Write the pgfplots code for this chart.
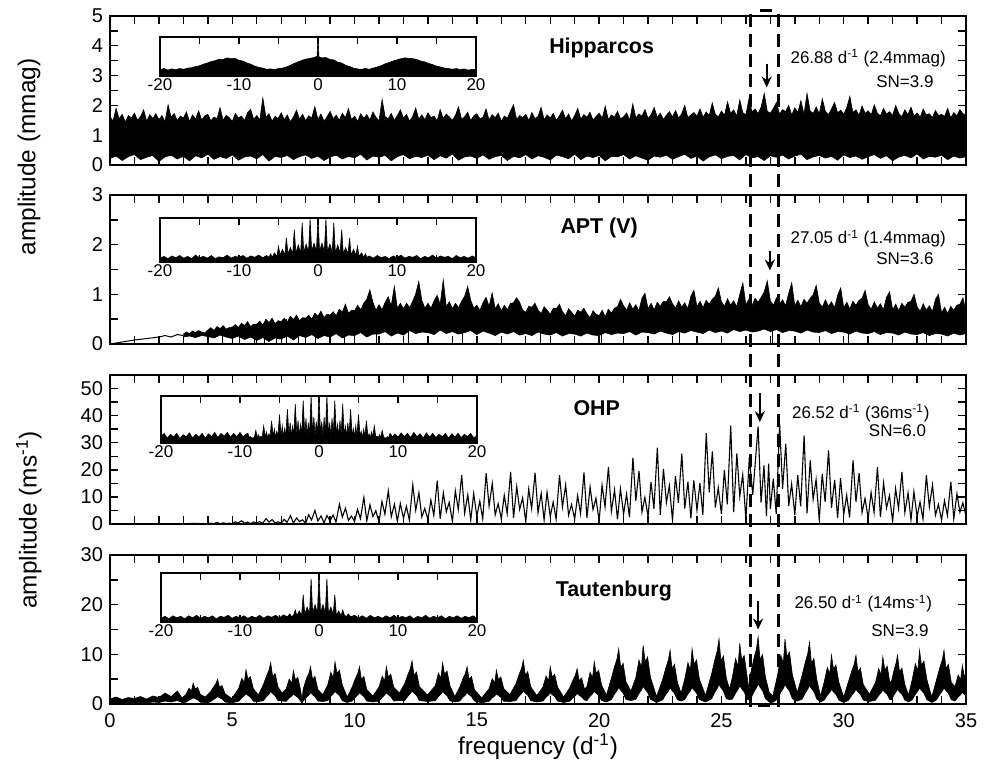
\documentclass[border=0pt]{standalone}
\usepackage{fontspec}
\setmainfont{Liberation Sans}
\usepackage{pgfplots}
\pgfplotsset{compat=1.18}
\usepackage{pgfplotstable}
\usepgfplotslibrary{fillbetween}
\usetikzlibrary{arrows.meta}

\pgfplotsset{
  mainp/.style={scale only axis, width=428pt, height=74.5pt, anchor=south west,
    xmin=0, xmax=35, ymin=0,
    xtick={0,5,...,35}, minor xtick={0,1,...,35},
    minor y tick num=1,
    tick align=inside, major tick length=4pt, minor tick length=4pt,
    tick style={black, line width=0.7pt},
    axis line style={line width=1pt},
    tick label style={font=\fontsize{10}{12}\selectfont},
    /pgf/number format/assume math mode=true},
  inset/.style={scale only axis, width=158pt, anchor=south west,
    xmin=-20, xmax=20, ymin=0, ymax=1,
    xtick={-20,-10,...,20}, minor xtick={-15,-5,5,15}, ytick=\empty,
    tick align=inside, major tick length=3.5pt, minor tick length=3.5pt,
    tick style={black, line width=0.7pt},
    axis line style={line width=1.1pt},
    tick label style={font=\fontsize{8.5}{10}\selectfont},
    xticklabel style={inner sep=1.2pt},
    /pgf/number format/assume math mode=true,
    axis background/.style={fill=white}},
}
\tikzset{
  win/.style={fill=black, draw=black, line width=0.3pt},
  ann/.style={font=\fontsize{8.5}{10}\selectfont},
  ttl/.style={font=\fontsize{10.7}{13}\selectfont\bfseries},
  lab/.style={font=\fontsize{12.2}{14}\selectfont},
  arr/.style={-{Stealth[length=5.5pt,width=5pt]}, line width=1.1pt},
}

\begin{document}

% Hipparcos: lower edge of the noise band
\pgfplotstableread{
x l
0 0.22
0.25 0.30
0.5 0.15
0.75 0.28
1 0.35
1.25 0.18
1.5 0.26
1.75 0.32
2 0.12
2.25 0.27
2.5 0.33
2.75 0.20
3 0.29
3.25 0.14
3.5 0.31
3.75 0.24
4 0.36
4.25 0.19
4.5 0.28
4.75 0.22
5 0.34
5.25 0.16
5.5 0.27
5.75 0.30
6 0.21
6.25 0.35
6.5 0.13
6.75 0.29
7 0.25
7.25 0.32
7.5 0.18
7.75 0.28
8 0.34
8.25 0.22
8.5 0.30
8.75 0.15
9 0.27
9.25 0.33
9.5 0.20
9.75 0.29
10 0.24
10.25 0.36
10.5 0.17
10.75 0.30
11 0.26
11.25 0.32
11.5 0.14
11.75 0.28
12 0.35
12.25 0.21
12.5 0.29
12.75 0.25
13 0.33
13.25 0.18
13.5 0.31
13.75 0.23
14 0.37
14.25 0.16
14.5 0.27
14.75 0.30
15 0.22
15.25 0.34
15.5 0.19
15.75 0.28
16 0.32
16.25 0.15
16.5 0.29
16.75 0.24
17 0.35
17.25 0.20
17.5 0.31
17.75 0.26
18 0.17
18.25 0.33
18.5 0.28
18.75 0.21
19 0.36
19.25 0.18
19.5 0.30
19.75 0.25
20 0.32
20.25 0.14
20.5 0.29
20.75 0.27
21 0.35
21.25 0.20
21.5 0.31
21.75 0.23
22 0.16
22.25 0.30
22.5 0.26
22.75 0.33
23 0.19
23.25 0.28
23.5 0.36
23.75 0.22
24 0.30
24.25 0.13
24.5 0.27
24.75 0.34
25 0.21
25.25 0.29
25.5 0.32
25.75 0.17
26 0.35
26.25 0.24
26.5 0.28
26.75 0.15
27 0.31
27.25 0.26
27.5 0.33
27.75 0.20
28 0.30
28.25 0.36
28.5 0.18
28.75 0.27
29 0.32
29.25 0.23
29.5 0.29
29.75 0.16
30 0.34
30.25 0.25
30.5 0.30
30.75 0.19
31 0.28
31.25 0.35
31.5 0.22
31.75 0.31
32 0.14
32.25 0.27
32.5 0.32
32.75 0.24
33 0.37
33.25 0.20
33.5 0.29
33.75 0.26
34 0.33
34.25 0.18
34.5 0.30
34.75 0.23
35 0.28
}\hipl

% APT (V): lower edge of the band from 3 d-1 on
\pgfplotstableread{
x l
3 .14
3.25 .16
3.5 .13
3.75 .17
4 .15
4.25 .12
4.5 .18
4.75 .14
5 .11
5.25 .16
5.5 .09
5.75 .14
6 .07
6.25 .13
6.5 .05
6.75 .12
7 .10
7.25 .16
7.5 .08
7.75 .17
8 .13
8.25 .19
8.5 .11
8.75 .17
9 .14
9.25 .21
9.5 .12
9.75 .18
10 .17
10.25 .23
10.5 .14
10.75 .20
11 .20
11.25 .25
11.5 .16
11.75 .22
12 .18
12.25 .27
12.5 .21
12.75 .24
13 .23
13.25 .19
13.5 .28
13.75 .21
14 .25
14.25 .20
14.5 .23
14.75 .27
15 .19
15.25 .26
15.5 .22
15.75 .17
16 .24
16.25 .20
16.5 .25
16.75 .18
17 .21
17.25 .17
17.5 .24
17.75 .20
18 .18
18.25 .23
18.5 .16
18.75 .21
19 .20
19.25 .16
19.5 .22
19.75 .18
20 .17
20.25 .23
20.5 .19
20.75 .22
21 .21
21.25 .25
21.5 .18
21.75 .24
22 .23
22.25 .20
22.5 .26
22.75 .22
23 .19
23.25 .25
23.5 .22
23.75 .27
24 .24
24.25 .21
24.5 .28
24.75 .23
25 .26
25.25 .22
25.5 .29
25.75 .25
26 .28
26.25 .24
26.5 .26
26.75 .30
27 .25
27.25 .29
27.5 .23
27.75 .27
28 .26
28.25 .22
28.5 .28
28.75 .24
29 .23
29.25 .27
29.5 .21
29.75 .25
30 .24
30.25 .20
30.5 .26
30.75 .22
31 .21
31.25 .25
31.5 .19
31.75 .23
32 .22
32.25 .18
32.5 .24
32.75 .20
33 .19
33.25 .23
33.5 .17
33.75 .21
34 .20
34.25 .16
34.5 .22
34.75 .18
35 .21
}\aptl

% Tautenburg: lobes, upper and lower edge
\pgfplotstableread{
x u l
0 1.0 0.1
0.25 1.4 0.2
0.5 0.9 0.2
0.75 1.3 0.3
1 1.1 0.2
1.25 1.5 0.3
1.5 1.0 0.2
1.75 1.6 0.4
2 1.3 0.3
2.25 2.2 0.6
2.5 1.5 0.4
2.75 2.6 0.7
2.95 1.2 0.3
3.1 1.9 .34
3.23 3.15 .76
3.33 2.60 1.01
3.4 4.2 1.26
3.48 3.02 1.05
3.58 3.36 .84
3.7 1.9 .34
3.9 1.4 .3
4.1 2.4 .4
4.23 3.4 .9
4.33 4.1 1.2
4.4 5.0 1.5
4.48 3.3 1.25
4.58 3.7 1.0
4.7 2.1 .4
4.98 1.1 .25
5.26 3.1 .55
5.39 5.18 1.24
5.49 4.28 1.66
5.56 6.9 2.07
5.64 4.97 1.73
5.74 5.52 1.38
5.86 3.1 .55
6.07 1.8 .5
6.27 3.9 .66
6.4 5.64 1.49
6.5 6.81 1.99
6.57 8.3 2.49
6.65 5.48 2.08
6.75 6.14 1.66
6.87 3.4 .66
7.03 2.2 .6
7.2 3.0 .54
7.33 5.03 1.21
7.43 4.15 1.61
7.5 6.7 2.01
7.58 4.82 1.68
7.68 5.36 1.34
7.8 2.6 .54
7.85 0.8 .15
7.9 3.0 .6
8.03 5.1 1.35
8.13 6.15 1.8
8.2 7.5 2.25
8.28 4.95 1.88
8.38 5.55 1.5
8.5 2.9 .6
8.7 1.9 .5
8.9 3.8 .68
9.03 6.38 1.53
9.13 5.27 2.04
9.2 8.5 2.55
9.28 6.12 2.13
9.38 6.8 1.7
9.5 3.8 .68
9.7 1.4 .3
9.9 3.4 .6
10.03 5.1 1.35
10.13 6.15 1.8
10.2 7.5 2.25
10.28 4.95 1.88
10.38 5.55 1.5
10.5 2.9 .6
10.75 1.6 .4
11.0 3.4 .6
11.13 5.63 1.35
11.23 4.65 1.8
11.3 7.5 2.25
11.38 5.4 1.88
11.48 6.0 1.5
11.6 3.4 .6
11.83 2.2 .7
12.05 4.1 .7
12.18 5.92 1.57
12.28 7.13 2.09
12.35 8.7 2.61
12.43 5.74 2.18
12.53 6.44 1.74
12.65 3.5 .7
12.98 1.8 .5
13.3 3.7 .66
13.43 6.23 1.49
13.53 5.15 1.99
13.6 8.3 2.49
13.68 5.98 2.08
13.78 6.64 1.66
13.9 3.7 .66
14.1 1.5 .4
14.3 3.4 .6
14.43 5.1 1.35
14.53 6.15 1.8
14.6 7.5 2.25
14.68 4.95 1.88
14.78 5.55 1.5
14.9 2.9 .6
15.2 1.2 .25
15.5 3.1 .54
15.63 5.1 1.22
15.73 4.22 1.63
15.8 6.8 2.04
15.88 4.9 1.7
15.98 5.44 1.36
16.1 3.1 .54
16.35 1.9 .5
16.6 4.1 .7
16.73 5.98 1.58
16.83 7.22 2.11
16.9 8.8 2.64
16.98 5.81 2.2
17.08 6.51 1.76
17.2 3.5 .7
17.45 1.7 .4
17.7 3.4 .6
17.83 5.63 1.35
17.93 4.65 1.8
18.0 7.5 2.25
18.08 5.4 1.88
18.18 6.0 1.5
18.3 3.4 .6
18.55 1.4 .3
18.8 3.3 .57
18.93 4.83 1.28
19.03 5.82 1.7
19.1 7.1 2.13
19.18 4.69 1.78
19.28 5.25 1.42
19.4 3.0 .8
19.5 3.5 .68
19.63 6.38 1.53
19.73 5.27 2.04
19.8 8.5 2.55
19.88 6.12 2.13
19.98 6.8 1.7
20.1 3.8 .68
20.3 1.8 .4
20.5 5.2 .89
20.63 7.55 2.0
20.73 9.1 2.66
20.8 11.1 3.33
20.88 7.33 2.78
20.98 8.21 2.22
21.1 4.4 .89
21.3 2.6 .7
21.5 5.3 .94
21.63 8.85 2.12
21.73 7.32 2.83
21.8 11.8 3.54
21.88 8.5 2.95
21.98 9.44 2.36
22.1 5.3 .94
22.35 1.5 .3
22.6 5.0 .86
22.73 7.34 1.94
22.83 8.86 2.59
22.9 10.8 3.24
22.98 7.13 2.7
23.08 7.99 2.16
23.2 4.3 .86
23.35 2.2 .6
23.5 5.0 .89
23.63 8.33 2.0
23.73 6.88 2.66
23.8 11.1 3.33
23.88 7.99 2.78
23.98 8.88 2.22
24.1 5.0 .89
24.35 1.7 .4
24.6 6.1 1.05
24.73 8.91 2.36
24.83 10.74 3.14
24.9 13.1 3.93
24.98 8.65 3.28
25.08 9.69 2.62
25.2 5.2 1.05
25.33 3.0 .9
25.45 5.5 .98
25.58 9.15 2.2
25.68 7.56 2.93
25.75 12.2 3.66
25.83 8.78 3.05
25.93 9.76 2.44
26.05 5.5 .98
26.13 2.8 .8
26.2 6.3 1.08
26.33 9.18 2.43
26.43 11.07 3.24
26.5 13.5 4.05
26.58 8.91 3.38
26.68 9.99 2.7
26.8 5.4 1.08
26.95 2.4 .4
27.1 1.6 .3
27.3 5.9 1.05
27.43 9.83 2.36
27.53 8.12 3.14
27.6 13.1 3.93
27.68 9.43 3.28
27.78 10.48 2.62
27.9 5.9 1.05
28.1 2.3 .6
28.3 5.8 .99
28.43 8.43 2.23
28.53 10.17 2.98
28.6 12.4 3.72
28.68 8.18 3.1
28.78 9.18 2.48
28.9 4.9 .99
29.05 1.6 .4
29.2 4.4 .78
29.33 7.35 1.76
29.43 6.08 2.35
29.5 9.8 2.94
29.58 7.06 2.45
29.68 7.84 1.96
29.8 4.4 .78
30.0 1.4 .3
30.2 4.6 .78
30.33 6.66 1.76
30.43 8.04 2.35
30.5 9.8 2.94
30.58 6.47 2.45
30.68 7.25 1.96
30.8 3.9 .78
31.05 2.0 .5
31.3 4.3 .76
31.43 7.13 1.71
31.53 5.89 2.28
31.6 9.5 2.85
31.68 6.84 2.38
31.78 7.6 1.9
31.88 4.5 .9
31.95 4.5 .9
32.05 6.66 1.76
32.13 8.04 2.35
32.2 9.8 2.94
32.28 6.47 2.45
32.38 7.25 1.96
32.5 3.9 .78
32.65 1.8 .4
32.8 4.9 .86
32.93 8.1 1.94
33.03 6.7 2.59
33.1 10.8 3.24
33.18 7.78 2.7
33.28 8.64 2.16
33.4 4.9 .86
33.6 1.4 .3
33.8 5.0 .86
33.93 7.34 1.94
34.03 8.86 2.59
34.1 10.8 3.24
34.18 7.13 2.7
34.28 7.99 2.16
34.4 4.3 .86
34.55 3.5 .62
34.68 5.85 1.4
34.78 4.84 1.87
34.85 7.8 2.34
34.93 5.62 1.95
35.0 6.0 1.6
}\taut

\begin{tikzpicture}

% ---------------- Hipparcos ----------------
\begin{axis}[mainp, at={(0pt,269.5pt)}, ymax=5, ytick={0,1,...,5}, xticklabels={}]
\addplot[draw=black, line width=0.3pt, name path=hu] coordinates {
(0,1.62)(0.125,1.48)(0.25,1.90)(0.375,1.55)(0.5,1.70)(0.625,1.44)(0.75,1.66)(0.875,1.58)
(1,1.74)(1.125,1.50)(1.25,1.63)(1.375,1.85)(1.5,1.47)(1.625,1.69)(1.75,1.56)(1.875,1.72)
(2,1.52)(2.125,1.66)(2.25,1.45)(2.375,2.02)(2.5,1.60)(2.625,1.73)(2.75,1.49)(2.875,1.64)
(3,1.57)(3.125,1.78)(3.25,1.46)(3.375,1.68)(3.5,1.54)(3.625,1.82)(3.75,1.51)(3.875,1.65)
(4,1.70)(4.125,1.48)(4.25,1.61)(4.375,1.55)(4.5,1.92)(4.625,1.50)(4.75,1.67)(4.875,1.59)
(5,1.46)(5.125,1.73)(5.25,1.58)(5.375,1.64)(5.5,1.49)(5.625,1.76)(5.75,1.87)(5.875,1.53)
(6,1.66)(6.125,1.51)(6.25,2.25)(6.375,1.60)(6.5,1.72)(6.625,1.47)(6.75,1.63)(6.875,1.56)
(7,1.75)(7.125,1.52)(7.25,1.68)(7.375,1.45)(7.5,1.61)(7.625,1.84)(7.75,1.54)(7.875,1.70)
(8,1.49)(8.125,1.65)(8.25,1.58)(8.375,1.96)(8.5,1.53)(8.625,1.71)(8.75,1.47)(8.875,1.62)
(9,1.80)(9.125,1.55)(9.25,1.67)(9.375,1.50)(9.5,1.74)(9.625,1.58)(9.75,1.89)(9.875,1.52)
(10,1.64)(10.125,1.46)(10.25,1.72)(10.375,1.57)(10.5,1.69)(10.625,1.51)(10.75,1.78)(10.875,1.60)
(11,1.48)(11.125,2.20)(11.25,1.62)(11.375,1.55)(11.5,1.73)(11.625,1.50)(11.75,1.66)(11.875,1.85)
(12,1.57)(12.125,1.70)(12.25,1.47)(12.375,1.63)(12.5,1.91)(12.625,1.54)(12.75,1.68)(12.875,1.52)
(13,1.75)(13.125,1.59)(13.25,1.64)(13.375,1.48)(13.5,1.86)(13.625,1.56)(13.75,1.71)(13.875,1.61)
(14,1.50)(14.125,1.67)(14.25,1.95)(14.375,1.53)(14.5,1.62)(14.625,1.77)(14.75,1.49)(14.875,1.65)
(15,1.72)(15.125,1.55)(15.25,1.60)(15.375,1.88)(15.5,1.51)(15.625,1.69)(15.75,1.58)(15.875,1.74)
(16,1.47)(16.125,1.64)(16.25,1.57)(16.375,1.81)(16.5,2.02)(16.625,1.53)(16.75,1.66)(16.875,1.59)
(17,1.70)(17.125,1.49)(17.25,1.76)(17.375,1.56)(17.5,1.63)(17.625,1.93)(17.75,1.52)(17.875,1.68)
(18,1.58)(18.125,1.73)(18.25,1.50)(18.375,1.65)(18.5,1.84)(18.625,1.55)(18.75,1.71)(18.875,1.48)
(19,1.66)(19.125,1.90)(19.25,1.54)(19.375,1.69)(19.5,1.60)(19.625,1.77)(19.75,1.51)(19.875,1.63)
(20,1.74)(20.125,1.57)(20.25,1.98)(20.375,1.52)(20.5,1.68)(20.625,1.61)(20.75,1.80)(20.875,1.55)
(21,1.62)(21.125,1.75)(21.25,1.50)(21.375,2.05)(21.5,1.58)(21.625,1.71)(21.75,1.64)(21.875,1.86)
(22,1.56)(22.125,1.69)(22.25,1.93)(22.375,1.60)(22.5,1.74)(22.625,1.53)(22.75,1.67)(22.875,1.79)
(23,1.61)(23.125,1.83)(23.25,1.57)(23.375,1.72)(23.5,2.00)(23.625,1.59)(23.75,1.68)(23.875,1.76)
(24,1.64)(24.125,1.88)(24.25,1.60)(24.375,1.78)(24.5,1.66)(24.625,2.08)(24.75,1.70)(24.875,1.62)
(25,1.81)(25.125,1.67)(25.25,2.12)(25.375,1.73)(25.5,1.85)(25.625,1.64)(25.75,2.18)(25.875,1.75)
(26,1.69)(26.125,2.22)(26.25,1.78)(26.375,1.88)(26.5,1.72)(26.625,1.95)(26.75,2.40)(26.875,1.80)
(27,1.74)(27.125,1.90)(27.25,2.10)(27.375,1.71)(27.5,1.86)(27.625,1.79)(27.75,2.00)(27.875,1.68)
(28,1.92)(28.125,1.76)(28.25,2.16)(28.375,1.70)(28.5,2.40)(28.625,1.82)(28.75,1.73)(28.875,1.95)
(29,1.72)(29.125,2.22)(29.25,1.80)(29.375,1.69)(29.5,1.88)(29.625,2.10)(29.75,1.75)(29.875,1.84)
(30,1.70)(30.125,1.93)(30.25,2.30)(30.375,1.76)(30.5,1.85)(30.625,1.67)(30.75,1.98)(30.875,1.73)
(31,1.82)(31.125,1.68)(31.25,2.02)(31.375,1.74)(31.5,1.65)(31.625,1.90)(31.75,1.71)(31.875,1.79)
(32,1.66)(32.125,2.00)(32.25,1.73)(32.375,1.62)(32.5,1.85)(32.625,1.69)(32.75,1.94)(32.875,1.64)
(33,1.75)(33.125,1.60)(33.25,1.88)(33.375,1.68)(33.5,1.72)(33.625,1.59)(33.75,1.83)(33.875,1.66)
(34,1.70)(34.125,1.63)(34.25,1.90)(34.375,1.58)(34.5,1.76)(34.625,1.65)(34.75,1.86)(34.875,1.72)
(35,1.68)};
\addplot[draw=black, line width=0.3pt, name path=hl] table[x=x,y=l]{\hipl};
\addplot[fill=black] fill between[of=hu and hl];
\node[ttl] at (axis cs:20.1,3.93) {Hipparcos};
\node[ann] at (axis cs:31.0,3.58) {26.88 d\textsuperscript{-1} (2.4mmag)};
\node[ann] at (axis cs:32.5,2.8) {SN=3.9};
\draw[arr] (axis cs:26.85,3.4) -- (axis cs:26.85,2.6);
\end{axis}
\begin{axis}[inset, at={(25pt,314pt)}, height=19.65pt]
\addplot[win] coordinates {
(-20,.16)(-19.5,.19)(-19,.15)(-18.5,.18)(-18,.16)(-17.5,.19)(-17,.17)(-16.5,.2)
(-16,.21)(-15.5,.24)(-15,.26)(-14.5,.3)(-14,.33)(-13.5,.37)(-13,.39)(-12.5,.43)
(-12,.42)(-11.5,.46)(-11,.44)(-10.5,.45)(-10,.4)(-9.5,.38)(-9,.33)(-8.5,.3)
(-8,.25)(-7.5,.22)(-7,.2)(-6.5,.17)(-6,.18)(-5.5,.16)(-5,.19)(-4.5,.2)(-4,.23)
(-3.5,.27)(-3,.32)(-2.5,.36)(-2,.4)(-1.5,.43)(-1,.45)(-0.5,.47)(-0.12,.5)
(0,1.0)(0.12,.49)(0.5,.46)(1,.47)(1.5,.42)(2,.41)(2.5,.35)(3,.33)(3.5,.27)
(4,.24)(4.5,.2)(5,.18)(5.5,.17)(6,.19)(6.5,.17)(7,.2)(7.5,.23)(8,.26)(8.5,.31)
(9,.34)(9.5,.38)(10,.41)(10.5,.44)(11,.46)(11.5,.45)(12,.44)(12.5,.42)(13,.38)
(13.5,.36)(14,.32)(14.5,.29)(15,.25)(15.5,.23)(16,.2)(16.5,.19)(17,.17)
(17.5,.19)(18,.16)(18.5,.18)(19,.15)(19.5,.17)(20,.16)} \closedcycle;
\end{axis}

% ---------------- APT (V) ----------------
\begin{axis}[mainp, at={(0pt,180pt)}, ymax=3, ytick={0,1,2,3}, xticklabels={}]
\addplot[black, line width=0.5pt] coordinates {
(0,0)(0.5,0.04)(1,0.08)(1.5,0.11)(2,0.14)(2.25,0.17)(2.5,0.14)(2.75,0.19)(3,0.17)};
\addplot[draw=black, line width=0.3pt, name path=au] coordinates {
(3,.20)(3.125,.24)(3.25,.21)(3.375,.26)(3.5,.23)(3.625,.27)(3.75,.24)(3.875,.22)
(4,.28)(4.125,.33)(4.25,.27)(4.375,.35)(4.5,.31)(4.625,.37)(4.75,.30)(4.875,.33)
(5,.34)(5.125,.39)(5.25,.33)(5.375,.42)(5.5,.37)(5.625,.45)(5.75,.35)(5.875,.40)
(6,.40)(6.125,.46)(6.25,.38)(6.375,.50)(6.5,.43)(6.625,.52)(6.75,.41)(6.875,.47)
(7,.45)(7.125,.52)(7.25,.44)(7.375,.56)(7.5,.49)(7.625,.58)(7.75,.47)(7.875,.53)
(8,.52)(8.125,.58)(8.25,.50)(8.375,.62)(8.5,.56)(8.625,.66)(8.75,.53)(8.875,.60)
(9,.58)(9.125,.65)(9.25,.57)(9.375,.70)(9.5,.64)(9.625,.80)(9.75,.62)(9.875,.68)
(10,.67)(10.125,.78)(10.25,.69)(10.375,.82)(10.5,.90)(10.625,1.09)(10.75,.84)(10.875,.68)
(11,.79)(11.125,.69)(11.25,.84)(11.375,.95)(11.5,.77)(11.625,1.16)(11.75,.72)(11.875,.82)
(12,.71)(12.125,.82)(12.25,.73)(12.375,.86)(12.5,1.01)(12.625,1.26)(12.75,.88)(12.875,.72)
(13,.82)(13.125,.72)(13.25,.87)(13.375,.98)(13.5,.80)(13.625,1.29)(13.75,.75)(13.875,.85)
(14,.71)(14.125,.82)(14.25,.73)(14.375,.86)(14.5,.96)(14.625,1.16)(14.75,.88)(14.875,.72)
(15,.78)(15.125,.68)(15.25,.83)(15.375,.94)(15.5,.76)(15.625,1.03)(15.75,.71)(15.875,.81)
(16,.67)(16.125,.78)(16.25,.69)(16.375,.82)(16.5,.83)(16.625,.93)(16.75,.84)(16.875,.68)
(17,.64)(17.125,.76)(17.25,.74)(17.375,.82)(17.5,.69)(17.625,.61)(17.75,.75)(17.875,.68)
(18,.60)(18.125,.72)(18.25,.71)(18.375,.80)(18.5,.65)(18.625,.57)(18.75,.71)(18.875,.64)
(19,.56)(19.125,.68)(19.25,.64)(19.375,.72)(19.5,.61)(19.625,.53)(19.75,.67)(19.875,.60)
(20,.57)(20.125,.68)(20.25,.55)(20.375,.70)(20.5,.62)(20.625,.72)(20.75,.75)(20.875,.90)
(21,.77)(21.125,.68)(21.25,.83)(21.375,.70)(21.5,.79)(21.625,.67)(21.75,.92)(21.875,1.02)
(22,.71)(22.125,.82)(22.25,.69)(22.375,.84)(22.5,.76)(22.625,.86)(22.75,.85)(22.875,.95)
(23,.81)(23.125,.72)(23.25,.87)(23.375,.74)(23.5,.83)(23.625,.71)(23.75,.96)(23.875,1.08)
(24,.75)(24.125,.86)(24.25,.73)(24.375,.88)(24.5,.80)(24.625,.90)(24.75,.96)(24.875,1.13)
(25,.85)(25.125,.76)(25.25,.91)(25.375,.78)(25.5,.87)(25.625,.75)(25.75,1.0)(25.875,1.23)
(26,.79)(26.125,.90)(26.25,.77)(26.375,.92)(26.5,.84)(26.625,.94)(26.75,1.05)(26.875,1.27)
(27,.87)(27.125,.78)(27.25,.93)(27.375,.80)(27.5,.89)(27.625,.77)(27.75,1.02)(27.875,1.23)
(28,.77)(28.125,.88)(28.25,.75)(28.375,.90)(28.5,.82)(28.625,.92)(28.75,.99)(28.875,1.18)
(29,.83)(29.125,.74)(29.25,.89)(29.375,.76)(29.5,.85)(29.625,.73)(29.75,.98)(29.875,1.13)
(30,.73)(30.125,.84)(30.25,.71)(30.375,.86)(30.5,.78)(30.625,.88)(30.75,.92)(30.875,1.08)
(31,.79)(31.125,.70)(31.25,.85)(31.375,.72)(31.5,.81)(31.625,.69)(31.75,.94)(31.875,1.05)
(32,.69)(32.125,.80)(32.25,.67)(32.375,.82)(32.5,.74)(32.625,.84)(32.75,.86)(32.875,1.0)
(33,.75)(33.125,.66)(33.25,.81)(33.375,.68)(33.5,.77)(33.625,.65)(33.75,.90)(33.875,1.0)
(34,.63)(34.125,.74)(34.25,.61)(34.375,.76)(34.5,.68)(34.625,.78)(34.75,.80)(34.875,.93)
(35,.65)};
\addplot[draw=black, line width=0.3pt, name path=al] table[x=x,y=l]{\aptl};
\addplot[fill=black] fill between[of=au and al];
\addplot[ycomb, black, line width=0.5pt] coordinates {
(4.6,.3)(5.3,.35)(5.9,.4)(6.3,.4)(6.8,.45)(7.2,.5)(7.7,.5)(8.4,.55)(9.0,.6)
(9.6,.6)(10.9,.6)(12.2,.7)(14.4,.7)(17.6,.6)(20.1,.6)(23.3,.7)(27.1,.7)(30.2,.7)(33.4,.6)};
\node[ttl] at (axis cs:20.0,2.33) {APT (V)};
\node[ann] at (axis cs:31.0,2.12) {27.05 d\textsuperscript{-1} (1.4mmag)};
\node[ann] at (axis cs:32.5,1.71) {SN=3.6};
\draw[arr] (axis cs:26.98,1.88) -- (axis cs:26.98,1.48);
\end{axis}
\begin{axis}[inset, at={(25pt,221.15pt)}, height=22pt]
\addplot[win] coordinates {
(-20,0.08)(-19.5,0.12)(-19,0.07)(-18.5,0.13)(-18,0.09)(-17.5,0.14)(-17,0.08)
(-16.5,0.12)(-16,0.07)(-15.5,0.15)(-15,0.09)(-14.5,0.12)(-14,0.08)(-13.5,0.14)
(-13,0.07)(-12.5,0.11)(-12,0.09)(-11.5,0.15)(-11,0.08)(-10.5,0.12)(-10,0.1)
(-9.5,0.14)(-9,0.08)(-8.5,0.13)(-8,0.1)(-7.5,0.15)(-7,0.09)(-6.5,0.14)(-6.2,0.1)
(-6,0.18)(-5.8,0.1)(-5.5,0.2)(-5.2,0.12)(-5,0.35)(-4.8,0.15)(-4.5,0.28)(-4.2,0.15)
(-4,0.54)(-3.8,0.18)(-3.5,0.32)(-3.2,0.18)(-3,0.73)(-2.8,0.2)(-2.5,0.38)(-2.2,0.2)
(-2,0.88)(-1.8,0.22)(-1.5,0.4)(-1.2,0.22)(-1,0.97)(-0.8,0.24)(-0.5,0.42)(-0.2,0.24)
(0,1.0)(0.2,0.24)(0.5,0.42)(0.8,0.24)(1,0.97)(1.2,0.22)(1.5,0.4)(1.8,0.22)
(2,0.88)(2.2,0.2)(2.5,0.38)(2.8,0.2)(3,0.73)(3.2,0.18)(3.5,0.32)(3.8,0.18)
(4,0.54)(4.2,0.15)(4.5,0.28)(4.8,0.15)(5,0.35)(5.2,0.12)(5.5,0.2)(5.8,0.1)
(6,0.18)(6.2,0.1)(6.5,0.13)(7,0.08)(7.5,0.14)(8,0.09)(8.5,0.12)(9,0.07)
(9.5,0.13)(10,0.09)(10.5,0.15)(11,0.08)(11.5,0.12)(12,0.1)(12.5,0.14)(13,0.07)
(13.5,0.12)(14,0.09)(14.5,0.15)(15,0.08)(15.5,0.13)(16,0.1)(16.5,0.12)(17,0.07)
(17.5,0.14)(18,0.09)(18.5,0.12)(19,0.08)(19.5,0.13)(20,0.09)} \closedcycle;
\end{axis}

% ---------------- OHP ----------------
\begin{axis}[mainp, at={(0pt,90pt)}, ymax=55, ytick={0,10,...,50}, xticklabels={}]
\addplot[black, line width=0.55pt] coordinates {
(0,0)(1,0.02)(2,0.05)(3,0.1)(3.5,0.25)(3.75,0.08)
(4,0.06)(4.12,0.33)(4.24,0.12)(4.38,0.6)(4.5,0.07)(4.63,0.43)(4.75,0.17)(4.87,0.3)
(5,0.06)(5.12,0.82)(5.24,0.36)(5.38,1.2)(5.5,0.26)(5.63,0.72)(5.75,0.1)(5.87,0.74)
(6,0.3)(6.12,0.9)(6.24,0.2)(6.38,2.0)(6.5,0.7)(6.63,1.6)(6.75,0.36)(6.87,0.8)
(7,0.31)(7.12,1.71)(7.24,0.62)(7.38,3.1)(7.5,0.37)(7.63,2.23)(7.75,0.87)(7.87,1.55)
(8,0.25)(8.12,3.4)(8.24,1.5)(8.38,5.0)(8.5,1.1)(8.63,3.0)(8.75,0.4)(8.87,3.1)
(9,1.1)(9.12,3.3)(9.24,0.73)(9.38,7.3)(9.5,2.56)(9.63,5.84)(9.75,1.31)(9.87,2.92)
(10,0.98)(10.12,5.39)(10.24,1.96)(10.38,9.8)(10.5,1.18)(10.63,7.06)(10.75,2.74)(10.87,4.9)
(11,0.61)(11.12,8.3)(11.24,3.66)(11.38,12.2)(11.5,2.68)(11.63,7.32)(11.75,0.98)(11.87,7.56)
(12,2.16)(12.12,6.48)(12.24,1.44)(12.38,14.4)(12.5,5.04)(12.63,11.5)(12.75,2.59)(12.87,5.76)
(13,1.6)(13.12,8.8)(13.24,3.2)(13.38,16)(13.5,1.92)(13.63,11.5)(13.75,4.48)(13.87,8)
(14,0.9)(14.12,12.2)(14.24,5.4)(14.38,18)(14.5,3.96)(14.63,10.8)(14.75,1.44)(14.87,11.2)
(15,2.82)(15.12,8.46)(15.24,1.88)(15.38,18.8)(15.5,6.58)(15.63,15)(15.75,3.38)(15.87,7.52)
(16,1.92)(16.12,10.6)(16.24,3.84)(16.38,19.2)(16.5,2.3)(16.63,13.8)(16.75,5.38)(16.87,9.6)
(17,0.95)(17.12,12.9)(17.24,5.67)(17.38,18.9)(17.5,4.16)(17.63,11.3)(17.75,1.51)(17.87,11.7)
(18,2.7)(18.12,8.1)(18.24,1.8)(18.38,18)(18.5,6.3)(18.63,14.4)(18.75,3.24)(18.87,7.2)
(19,1.9)(19.12,10.5)(19.24,3.8)(19.38,19)(19.5,2.28)(19.63,13.7)(19.75,5.32)(19.87,9.5)
(20,1.05)(20.12,14.3)(20.24,6.3)(20.38,21)(20.5,4.62)(20.63,12.6)(20.75,1.68)(20.87,13)
(21,3.68)(21.12,11)(21.24,2.45)(21.38,24.5)(21.5,8.58)(21.63,19.6)(21.75,4.41)(21.87,9.8)
(22,2.82)(22.12,15.5)(22.24,5.64)(22.38,28.2)(22.5,3.38)(22.63,20.3)(22.75,7.9)(22.87,14.1)
(23,1.3)(23.12,17.7)(23.24,7.8)(23.38,26)(23.5,5.72)(23.63,15.6)(23.75,2.08)(23.87,16.1)
(24,5.03)(24.12,15.1)(24.24,3.35)(24.38,33.5)(24.5,11.7)(24.63,26.8)(24.75,6.03)(24.87,13.4)
(25,3.63)(25.12,20)(25.24,7.26)(25.38,36.3)(25.5,4.36)(25.63,26.1)(25.75,10.2)(25.87,18.2)
(26,1.8)(26.14,24.5)(26.28,10.8)(26.5,36)(26.62,7.92)(26.74,21.6)(26.84,2.88)(26.93,22.3)
(27,5.55)(27.12,16.7)(27.24,3.7)(27.38,37)(27.5,13)(27.63,29.6)(27.75,6.66)(27.87,14.8)
(28,3.27)(28.12,18)(28.24,6.54)(28.38,32.7)(28.5,3.92)(28.63,23.5)(28.75,9.16)(28.87,16.4)
(29,1.36)(29.12,18.5)(29.24,8.16)(29.38,27.2)(29.5,5.98)(29.63,16.3)(29.75,2.18)(29.87,16.9)
(30,3.53)(30.12,10.6)(30.24,2.35)(30.38,23.5)(30.5,8.23)(30.63,18.8)(30.75,4.23)(30.87,9.4)
(31,2.1)(31.12,11.6)(31.24,4.2)(31.38,21)(31.5,2.52)(31.63,15.1)(31.75,5.88)(31.87,10.5)
(32,0.96)(32.12,13.1)(32.24,5.76)(32.38,19.2)(32.5,4.22)(32.63,11.5)(32.75,1.54)(32.87,11.9)
(33,2.7)(33.12,8.1)(33.24,1.8)(33.38,18)(33.5,6.3)(33.63,14.4)(33.75,3.24)(33.87,7.2)
(34,1.56)(34.12,8.58)(34.24,3.12)(34.38,15.6)(34.5,1.87)(34.63,11.2)(34.75,4.37)(34.87,7.8)(35,3)};
\node[ttl] at (axis cs:19.9,42.6) {OHP};
\node[ann] at (axis cs:30.7,40.8) {26.52 d\textsuperscript{-1} (36ms\textsuperscript{-1})};
\node[ann] at (axis cs:32.2,34.6) {SN=6.0};
\draw[arr] (axis cs:26.57,48.2) -- (axis cs:26.57,37.6);
\end{axis}
\begin{axis}[inset, at={(25.5pt,130.65pt)}, height=23.35pt]
\addplot[win] coordinates {
(-20,0.14)(-19.6,0.2)(-19.2,0.1)(-18.8,0.18)(-18.4,0.12)(-18,0.2)(-17.6,0.09)
(-17.2,0.17)(-16.8,0.13)(-16.4,0.21)(-16,0.1)(-15.6,0.18)(-15.2,0.12)(-14.8,0.2)
(-14.4,0.1)(-14,0.19)(-13.6,0.13)(-13.2,0.22)(-12.8,0.11)(-12.4,0.2)(-12,0.14)
(-11.6,0.22)(-11.2,0.12)(-10.8,0.2)(-10.4,0.13)(-10,0.22)(-9.6,0.12)(-9.3,0.18)
(-9,.2)(-8.8,.1)(-8.65,.13)(-8.5,.09)(-8.35,.11)(-8.2,.1)
(-8,.26)(-7.8,.11)(-7.65,.17)(-7.5,.1)(-7.35,.14)(-7.2,.11)
(-7,.36)(-6.8,.12)(-6.65,.23)(-6.5,.1)(-6.35,.19)(-6.2,.12)
(-6,.47)(-5.8,.13)(-5.65,.29)(-5.5,.11)(-5.35,.24)(-5.2,.13)
(-5,.6)(-4.8,.14)(-4.65,.36)(-4.5,.12)(-4.35,.3)(-4.2,.14)
(-4,.72)(-3.8,.15)(-3.65,.43)(-3.5,.13)(-3.35,.35)(-3.2,.15)
(-3,.83)(-2.8,.16)(-2.65,.48)(-2.5,.13)(-2.35,.39)(-2.2,.16)
(-2,.9)(-1.8,.17)(-1.65,.52)(-1.5,.14)(-1.35,.43)(-1.2,.17)
(-1,1)(-0.8,.18)(-0.65,.55)(-0.5,.14)(-0.35,.45)(-0.2,.18)
(0,1)(0.2,.18)(0.35,.45)(0.5,.14)(0.65,.55)(0.8,.18)
(1,1)(1.2,.17)(1.35,.43)(1.5,.14)(1.65,.52)(1.8,.17)
(2,.9)(2.2,.16)(2.35,.39)(2.5,.13)(2.65,.48)(2.8,.16)
(3,.83)(3.2,.15)(3.35,.35)(3.5,.13)(3.65,.43)(3.8,.15)
(4,.72)(4.2,.14)(4.35,.3)(4.5,.12)(4.65,.36)(4.8,.14)
(5,.6)(5.2,.13)(5.35,.24)(5.5,.11)(5.65,.29)(5.8,.13)
(6,.47)(6.2,.12)(6.35,.19)(6.5,.1)(6.65,.23)(6.8,.12)
(7,.36)(7.2,.11)(7.35,.14)(7.5,.1)(7.65,.17)(7.8,.11)
(8,.26)(8.2,.1)(8.35,.11)(8.5,.09)(8.65,.13)(8.8,.1)(9,.2)
(9.3,.12)(9.6,.19)(10,.12)(10.4,.21)(10.8,.13)(11.2,.2)(11.6,.11)(12,.22)
(12.4,.13)(12.8,.19)(13.2,.1)(13.6,.21)(14,.12)(14.4,.2)(14.8,.11)(15.2,.18)
(15.6,.13)(16,.2)(16.4,.1)(16.8,.19)(17.2,.12)(17.6,.2)(18,.11)(18.4,.18)
(18.8,.13)(19.2,.2)(19.6,.1)(20,.16)} \closedcycle;
\end{axis}

% ---------------- Tautenburg ----------------
\begin{axis}[mainp, at={(0pt,0pt)}, ymax=30, ytick={0,10,20,30}, clip=false,
  xticklabel style={yshift=-1pt}]
\addplot[draw=black, line width=0.3pt, name path=tu] table[x=x,y=u]{\taut};
\addplot[draw=black, line width=0.3pt, name path=tl] table[x=x,y=l]{\taut};
\addplot[fill=black] fill between[of=tu and tl];
\node[ttl] at (axis cs:20.6,22.8) {Tautenburg};
\node[ann] at (axis cs:30.8,20.2) {26.50 d\textsuperscript{-1} (14ms\textsuperscript{-1})};
\node[ann] at (axis cs:32.3,14.8) {SN=3.9};
\draw[arr] (axis cs:26.5,20.8) -- (axis cs:26.5,15.0);
% frequency window marked across all four panels
\draw[line width=1.2pt, dash pattern=on 6.5pt off 3.5pt] (axis cs:26.19,-0.6) -- (axis cs:26.19,139.8);
\draw[line width=1.2pt, dash pattern=on 6.5pt off 3.5pt] (axis cs:27.33,-0.6) -- (axis cs:27.33,139.8);
\draw[line width=1.5pt] (axis cs:26.57,139.7) -- (axis cs:27.05,139.7);
\draw[line width=1.5pt] (axis cs:26.49,-0.3) -- (axis cs:26.98,-0.3);
\end{axis}
\begin{axis}[inset, at={(25.5pt,41.15pt)}, height=24.5pt]
\addplot[win] coordinates {
(-20,0.07)(-19.5,0.11)(-19,0.06)(-18.5,0.12)(-18,0.08)(-17.5,0.11)(-17,0.06)
(-16.5,0.12)(-16,0.08)(-15.5,0.13)(-15,0.07)(-14.5,0.11)(-14,0.08)(-13.5,0.12)
(-13,0.06)(-12.5,0.11)(-12,0.09)(-11.5,0.13)(-11,0.07)(-10.5,0.11)(-10,0.08)
(-9.5,0.12)(-9,0.07)(-8.5,0.11)(-8,0.08)(-7.5,0.13)(-7,0.07)(-6.5,0.12)(-6,0.09)
(-5.5,0.13)(-5,0.08)(-4.5,0.14)(-4,0.1)(-3.7,0.16)(-3.45,0.1)(-3.2,0.14)(-3,0.24)
(-2.8,0.12)(-2.5,0.22)(-2.2,0.13)(-2,0.55)(-1.8,0.15)(-1.5,0.3)(-1.2,0.16)(-1,0.88)
(-0.8,0.18)(-0.5,0.35)(-0.2,0.18)(0,1.0)(0.2,0.18)(0.5,0.35)(0.8,0.18)(1,0.88)
(1.2,0.16)(1.5,0.3)(1.8,0.15)(2,0.55)(2.2,0.13)(2.5,0.22)(2.8,0.12)(3,0.24)
(3.2,0.14)(3.45,0.1)(3.7,0.16)(4,0.1)(4.5,0.13)(5,0.08)(5.5,0.12)(6,0.07)
(6.5,0.13)(7,0.08)(7.5,0.11)(8,0.07)(8.5,0.12)(9,0.08)(9.5,0.13)(10,0.07)
(10.5,0.11)(11,0.08)(11.5,0.12)(12,0.06)(12.5,0.11)(13,0.08)(13.5,0.13)(14,0.07)
(14.5,0.11)(15,0.08)(15.5,0.12)(16,0.06)(16.5,0.11)(17,0.08)(17.5,0.12)(18,0.07)
(18.5,0.11)(19,0.08)(19.5,0.12)(20,0.07)} \closedcycle;
\end{axis}

\node[rotate=90, lab] at (-40.5pt,273.5pt) {amplitude (mmag)};
\node[rotate=90, lab] at (-40.5pt,92pt) {amplitude (ms\textsuperscript{-1})};
\node[lab] at (214pt,-21.5pt) {frequency (d\textsuperscript{-1})};

\pgfresetboundingbox
\useasboundingbox (-55pt,-30pt) rectangle (437pt,352pt);
\end{tikzpicture}
\end{document}
